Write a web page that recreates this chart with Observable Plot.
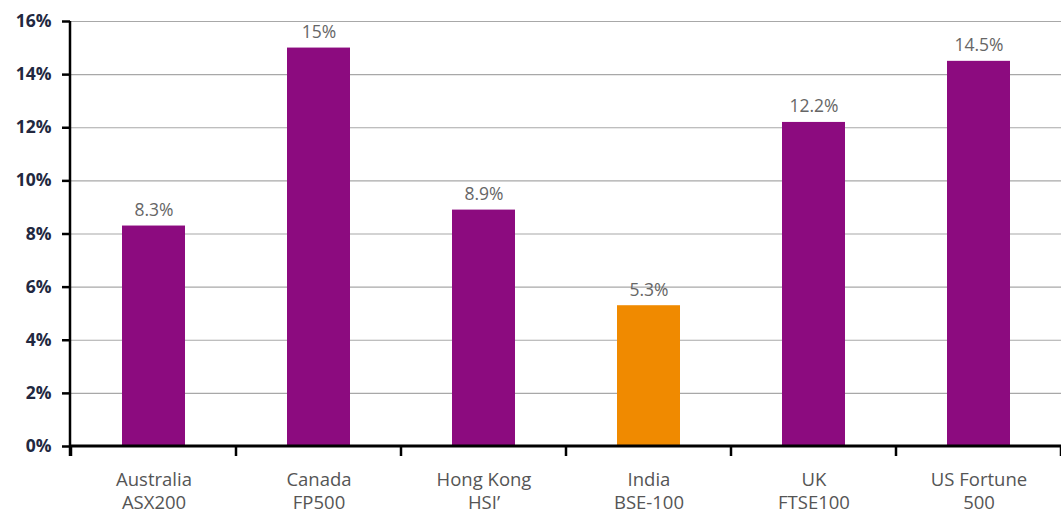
<!DOCTYPE html>
<html>
<head>
<meta charset="utf-8">
<script src="https://cdn.jsdelivr.net/npm/d3@7"></script>
<script src="https://cdn.jsdelivr.net/npm/@observablehq/plot@0.6"></script>
<style>
  html, body { margin: 0; padding: 0; background: #fff; }
  #chart svg { display: block; }
</style>
</head>
<body>
<div id="chart"></div>
<script>
const categories = ["Australia\nASX200", "Canada\nFP500", "Hong Kong\nHSI’", "India\nBSE-100", "UK\nFTSE100", "US Fortune\n500"];
const values = [8.3, 15, 8.9, 5.3, 12.2, 14.5];
const valueLabels = ["8.3%", "15%", "8.9%", "5.3%", "12.2%", "14.5%"];
const highlight = [false, false, false, true, false, false];
const yTicks = [0, 2, 4, 6, 8, 10, 12, 14, 16];

const data = categories.map((c, i) => ({cat: c, value: values[i], label: valueLabels[i], hi: highlight[i]}));

const PURPLE = "#8c0b7f";
const ORANGE = "#f08a00";
const font = "'Open Sans', 'Noto Sans', sans-serif";

// custom axis lines + band-boundary ticks drawn from scales
function axes(index, scales, values, dimensions) {
  const {width, height, marginLeft, marginRight, marginTop, marginBottom} = dimensions;
  const g = d3.create("svg:g");
  const y0 = scales.y(0);
  const yTop = scales.y(d3.max(yTicks));
  const xs = categories.map(c => scales.x(c));
  const step = xs[1] - xs[0];
  const bw = scales.x.bandwidth ? scales.x.bandwidth() : 0;
  const bounds = xs.map(x => x + bw / 2 - step / 2);
  bounds.push(xs[xs.length - 1] + bw / 2 + step / 2);
  g.append("line").attr("x1", marginLeft).attr("x2", width - marginRight)
    .attr("y1", y0).attr("y2", y0).attr("stroke", "#000").attr("stroke-width", 3);
  g.append("line").attr("x1", marginLeft).attr("x2", marginLeft)
    .attr("y1", yTop).attr("y2", y0 + 10).attr("stroke", "#000").attr("stroke-width", 2.5);
  for (const b of bounds) {
    g.append("line").attr("x1", b).attr("x2", b).attr("y1", y0).attr("y2", y0 + 10)
      .attr("stroke", "#000").attr("stroke-width", 2.5);
  }
  return g.node();
}

const chart = Plot.plot({
  width: 1061,
  height: 518,
  marginLeft: 70,
  marginRight: 0,
  marginTop: 21,
  marginBottom: 72,
  style: {fontFamily: font, background: "#fff", overflow: "visible"},
  x: {domain: categories, paddingInner: 0.62, paddingOuter: 0.31, label: null},
  y: {domain: [0, 16], label: null},
  marks: [
    Plot.ruleY(yTicks.filter(d => d > 0), {stroke: "#a8a8a8", strokeWidth: 1.2, strokeOpacity: 1}),
    Plot.barY(data, {x: "cat", y: "value", fill: d => d.hi ? ORANGE : PURPLE}),
    Plot.text(data, {x: "cat", y: "value", text: "label", dy: -10, lineAnchor: "bottom", fill: "#666", fontSize: 17.5}),
    Plot.axisY({ticks: yTicks, tickFormat: d => d + "%", tickSize: 8, tickPadding: 11, stroke: "#000", strokeWidth: 2.5, fill: "#22283f", fontSize: 17.5, fontWeight: "bold", label: null}),
    Plot.axisX({tickSize: 0, tickPadding: 23, fill: "#555", fontSize: 18.5, lineHeight: 1.25, label: null}),
    axes
  ]
});
document.getElementById("chart").appendChild(chart);
</script>
</body>
</html>
